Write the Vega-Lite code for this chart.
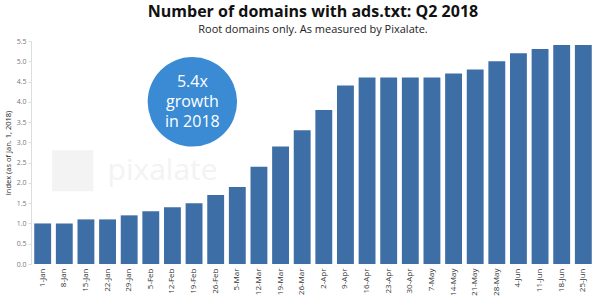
{
  "$schema": "https://vega.github.io/schema/vega-lite/v6.json",
  "width": 600,
  "height": 300,
  "autosize": {"type": "fit", "contains": "padding"},
  "padding": {"left": 4, "right": 5, "top": 4, "bottom": 4},
  "background": "white",
  "title": {
    "text": "Number of domains with ads.txt: Q2 2018",
    "subtitle": "Root domains only. As measured by Pixalate.",
    "font": "Open Sans",
    "fontSize": 16,
    "fontWeight": "bold",
    "color": "#111111",
    "subtitleFont": "Open Sans",
    "subtitleFontSize": 11,
    "subtitleColor": "#222222",
    "subtitlePadding": 4,
    "offset": 2,
    "anchor": "middle"
  },
  "config": {
    "view": {"stroke": null},
    "font": "Open Sans",
    "axisY": {"labelOverlap": false}
  },
  "datasets": {
    "bars": [
      {"week": "1-Jan", "index": 1.0},
      {"week": "8-Jan", "index": 1.0},
      {"week": "15-Jan", "index": 1.1},
      {"week": "22-Jan", "index": 1.1},
      {"week": "29-Jan", "index": 1.2},
      {"week": "5-Feb", "index": 1.3},
      {"week": "12-Feb", "index": 1.4},
      {"week": "19-Feb", "index": 1.5},
      {"week": "26-Feb", "index": 1.7},
      {"week": "5-Mar", "index": 1.9},
      {"week": "12-Mar", "index": 2.4},
      {"week": "19-Mar", "index": 2.9},
      {"week": "26-Mar", "index": 3.3},
      {"week": "2-Apr", "index": 3.8},
      {"week": "9-Apr", "index": 4.4},
      {"week": "16-Apr", "index": 4.6},
      {"week": "23-Apr", "index": 4.6},
      {"week": "30-Apr", "index": 4.6},
      {"week": "7-May", "index": 4.6},
      {"week": "14-May", "index": 4.7},
      {"week": "21-May", "index": 4.8},
      {"week": "28-May", "index": 5.0},
      {"week": "4-Jun", "index": 5.2},
      {"week": "11-Jun", "index": 5.3},
      {"week": "18-Jun", "index": 5.4},
      {"week": "25-Jun", "index": 5.4}
    ],
    "badge": [
      {"week": "19-Feb", "y": 4.0, "line": "5.4x", "ly": 4.5},
      {"week": "19-Feb", "y": 4.0, "line": "growth", "ly": 4.0},
      {"week": "19-Feb", "y": 4.0, "line": "in 2018", "ly": 3.5}
    ],
    "mark": [
      {"week": "22-Jan", "y": 2.3, "label": "pixalate", "iconWeek": "8-Jan"}
    ]
  },
  "layer": [
    {
      "data": {"name": "mark"},
      "mark": {"type": "point", "shape": "square", "filled": true, "size": 1700, "color": "#f3f3f3", "opacity": 1},
      "encoding": {
        "x": {"field": "iconWeek", "type": "nominal", "sort": null, "bandPosition": 1},
        "y": {"field": "y", "type": "quantitative", "scale": {"domain": [0, 5.5], "nice": false},
          "axis": {
            "title": "Index (as of Jan. 1, 2018)",
            "titleFontSize": 7.5, "titleFontWeight": "normal", "titleColor": "#222222", "titlePadding": 4,
            "values": [0, 0.5, 1, 1.5, 2, 2.5, 3, 3.5, 4, 4.5, 5, 5.5],
            "labelOverlap": false,
            "format": ".1f", "labelFontSize": 7, "labelColor": "#777777",
            "grid": false, "domainColor": "#dddddd", "tickColor": "#dddddd", "tickSize": 3
          }}
      }
    },
    {
      "data": {"name": "mark"},
      "mark": {"type": "text", "fontSize": 30, "color": "#f3f3f3", "font": "Open Sans", "align": "left", "baseline": "middle"},
      "encoding": {
        "x": {"field": "week", "type": "nominal", "sort": null},
        "y": {"field": "y", "type": "quantitative", "scale": {"domain": [0, 5.5], "nice": false},
          "axis": {
            "title": "Index (as of Jan. 1, 2018)",
            "titleFontSize": 7.5, "titleFontWeight": "normal", "titleColor": "#222222", "titlePadding": 4,
            "values": [0, 0.5, 1, 1.5, 2, 2.5, 3, 3.5, 4, 4.5, 5, 5.5],
            "labelOverlap": false,
            "format": ".1f", "labelFontSize": 7, "labelColor": "#777777",
            "grid": false, "domainColor": "#dddddd", "tickColor": "#dddddd", "tickSize": 3
          }},
        "text": {"field": "label"}
      }
    },
    {
      "data": {"name": "bars"},
      "mark": {"type": "bar", "color": "#3d6ea5"},
      "encoding": {
        "x": {
          "field": "week", "type": "nominal", "sort": null,
          "scale": {"domain": ["1-Jan","8-Jan","15-Jan","22-Jan","29-Jan","5-Feb","12-Feb","19-Feb","26-Feb","5-Mar","12-Mar","19-Mar","26-Mar","2-Apr","9-Apr","16-Apr","23-Apr","30-Apr","7-May","14-May","21-May","28-May","4-Jun","11-Jun","18-Jun","25-Jun"], "paddingInner": 0.22, "paddingOuter": 0.15},
          "axis": {"title": null, "labelAngle": -90, "labelFontSize": 8, "labelColor": "#333333", "domain": false, "ticks": false, "labelPadding": 4}
        },
        "y": {
          "field": "index", "type": "quantitative",
          "scale": {"domain": [0, 5.5], "nice": false},
          "axis": {
            "title": "Index (as of Jan. 1, 2018)",
            "titleFontSize": 7.5, "titleFontWeight": "normal", "titleColor": "#222222", "titlePadding": 4,
            "values": [0, 0.5, 1, 1.5, 2, 2.5, 3, 3.5, 4, 4.5, 5, 5.5],
            "labelOverlap": false,
            "format": ".1f", "labelFontSize": 7, "labelColor": "#777777",
            "grid": false, "domainColor": "#dddddd", "tickColor": "#dddddd", "tickSize": 3
          }
        }
      }
    },
    {
      "data": {"name": "badge"},
      "transform": [{"filter": "datum.line == '5.4x'"}],
      "mark": {"type": "point", "filled": true, "size": 8000, "color": "#3a8bd4", "opacity": 1, "shape": "circle"},
      "encoding": {
        "x": {"field": "week", "type": "nominal", "sort": null, "bandPosition": 0.4},
        "y": {"field": "y", "type": "quantitative", "scale": {"domain": [0, 5.5], "nice": false},
          "axis": {
            "title": "Index (as of Jan. 1, 2018)",
            "titleFontSize": 7.5, "titleFontWeight": "normal", "titleColor": "#222222", "titlePadding": 4,
            "values": [0, 0.5, 1, 1.5, 2, 2.5, 3, 3.5, 4, 4.5, 5, 5.5],
            "labelOverlap": false,
            "format": ".1f", "labelFontSize": 7, "labelColor": "#777777",
            "grid": false, "domainColor": "#dddddd", "tickColor": "#dddddd", "tickSize": 3
          }}
      }
    },
    {
      "data": {"name": "badge"},
      "mark": {"type": "text", "fontSize": 16, "color": "white", "font": "Open Sans", "align": "center", "baseline": "middle"},
      "encoding": {
        "x": {"field": "week", "type": "nominal", "sort": null, "bandPosition": 0.4},
        "y": {"field": "ly", "type": "quantitative", "scale": {"domain": [0, 5.5], "nice": false},
          "axis": {
            "title": "Index (as of Jan. 1, 2018)",
            "titleFontSize": 7.5, "titleFontWeight": "normal", "titleColor": "#222222", "titlePadding": 4,
            "values": [0, 0.5, 1, 1.5, 2, 2.5, 3, 3.5, 4, 4.5, 5, 5.5],
            "labelOverlap": false,
            "format": ".1f", "labelFontSize": 7, "labelColor": "#777777",
            "grid": false, "domainColor": "#dddddd", "tickColor": "#dddddd", "tickSize": 3
          }},
        "text": {"field": "line"}
      }
    }
  ]
}
